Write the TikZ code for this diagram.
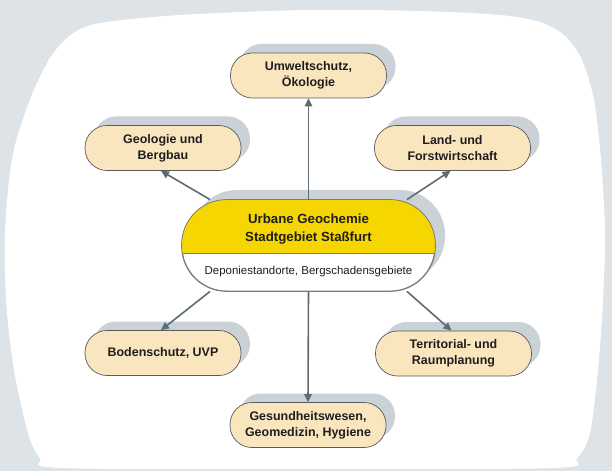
\documentclass[tikz,border=0pt]{standalone}
\usepackage{fontspec}
\setmainfont{Liberation Sans}
\usetikzlibrary{arrows.meta,shadows,calc}
\definecolor{bggray}{RGB}{221,227,230}
\definecolor{shgray}{RGB}{202,210,215}
\definecolor{beige}{RGB}{250,230,190}
\definecolor{yel}{RGB}{245,214,0}
\definecolor{arr}{RGB}{93,108,116}
\definecolor{bord}{RGB}{90,90,90}
\definecolor{txt}{RGB}{30,30,30}
\tikzset{
  topic/.style={draw=bord, line width=0.7bp, fill=beige, rounded corners=22bp,
    minimum width=156bp, minimum height=45bp, inner sep=0pt, align=center,
    font=\fontsize{12.5}{16}\selectfont\bfseries, text=txt,
    general shadow={fill=shgray, shadow xshift=9bp, shadow yshift=9bp}},
  hub/.style={draw=bord!80, line width=0.8bp, fill=white, rounded corners=45bp,
    minimum width=253bp, minimum height=91bp, inner sep=0pt,
    general shadow={fill=shgray, shadow xshift=10bp, shadow yshift=10bp}},
  link/.style={draw=arr, line width=1.6bp, -{Triangle[length=8bp,width=7.5bp]}},
}
\begin{document}
\begin{tikzpicture}[x=1bp,y=-1bp]
\fill[bggray] (0,0) rectangle (612,471);
\useasboundingbox (0,0) rectangle (612,471);
\fill[white] plot[smooth cycle] coordinates {(306,10) (420,11) (500,15) (540,22) (565,36) (582,60) (594,100) (601,160) (605,233) (603,300) (598,370) (590,433) (577,458) (555,468) (300,469) (60,468) (40,458) (28,433) (14,370) (6,300) (5,233) (9,180) (15,145) (25,113) (36,85) (52,55) (72,34) (100,23) (180,15)};

% hub
\node[hub] (c) at (308.5,245.5) {};
\coordinate (d) at (308.5,253);
\begin{scope}
  \clip[rounded corners=45bp] (c.south west) rectangle (c.north east);
  \fill[yel] (c.north west) rectangle (c.east |- d);
  \draw[bord!80, line width=0.8bp] (c.west |- d) -- (c.east |- d);
\end{scope}
\draw[bord!80, line width=0.8bp, rounded corners=45bp] (c.south west) rectangle (c.north east);
\node[font=\fontsize{13.3}{18}\selectfont\bfseries, align=center, text=txt] (t1) at (308.5,229) {Urbane Geochemie\\Stadtgebiet Staßfurt};
\node[font=\fontsize{11.5}{14}\selectfont, text=txt] (t2) at (308.5,272) {Deponiestandorte, Bergschadensgebiete};

% topics
\node[topic] (umw) at (308.5,75.5) {Umweltschutz,\\Ökologie};
\node[topic] (geo) at (163,148) {Geologie und\\Bergbau};
\node[topic] (land) at (452.5,148) {Land- und\\Forstwirtschaft};
\node[topic] (bod) at (163,353) {Bodenschutz, UVP};
\node[topic] (terr) at (453.5,353.5) {Territorial- und\\Raumplanung};
\node[topic] (ges) at (308,425) {Gesundheitswesen,\\Geomedizin, Hygiene};

% links
\draw[link] (c.north) -- (umw.south);
\draw[link] (c.155) -- (geo.-95);
\draw[link] (c.25) -- (land.-95);
\draw[link] (c.205) -- (bod.95);
\draw[link] (c.-25) -- (terr.95);
\draw[link] (c.south) -- (ges.north);
\end{tikzpicture}
\end{document}
